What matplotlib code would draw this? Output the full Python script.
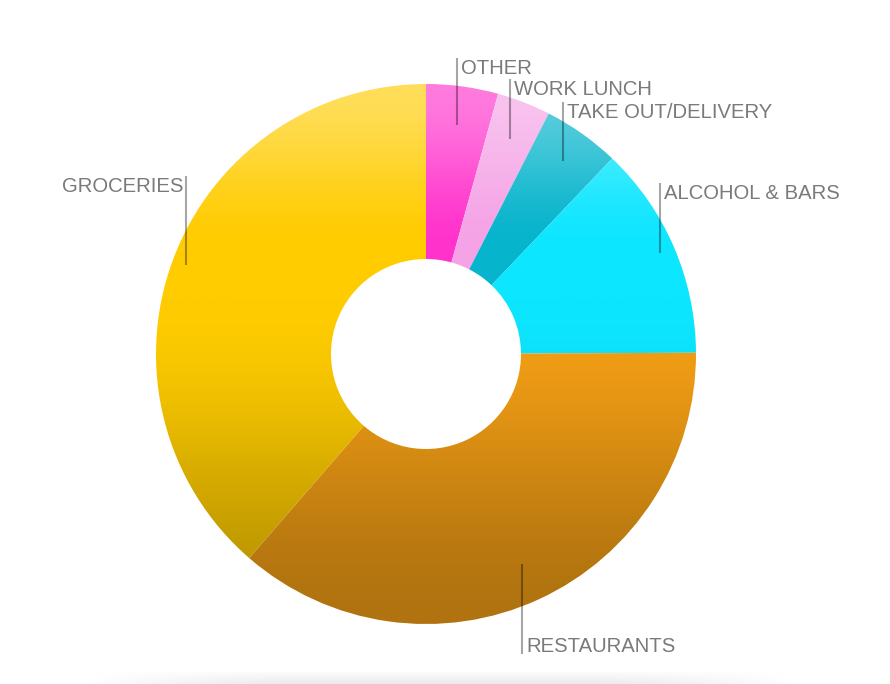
import numpy as np
import matplotlib.pyplot as plt
from matplotlib.patches import Wedge
from matplotlib.colors import to_rgb

# spending share by category (percent), clockwise from 12 o'clock
categories = ["OTHER", "WORK LUNCH", "TAKE OUT/DELIVERY", "ALCOHOL & BARS",
              "RESTAURANTS", "GROCERIES"]
shares = [4.3, 3.2, 4.6, 12.8, 36.4, 38.6]
base_colors = ["#ff33cc", "#f5a3e6", "#06b4cc", "#0de6ff", "#f5a015", "#ffcc00"]

# label layout: radius of leader start, leader length, direction
label_radius = [231, 231, 237, 255, 231, 256]
leader_len = [67, 60, 59, 70, 90, 89]
leader_dir = ["up", "up", "up", "up", "down", "up"]

W, H = 890, 684
cx, cy = 426, H - 354
R_OUT, R_IN = 270, 95

fig = plt.figure(figsize=(W / 100, H / 100), dpi=100)
ax = fig.add_axes([0, 0, 1, 1])
ax.set_xlim(0, W)
ax.set_ylim(0, H)
ax.set_aspect("equal")
ax.axis("off")

# vertical shading: light at the top, darker at the bottom
ys = np.linspace(H, 0, 400)          # image rows from top to bottom
ypix = H - ys                        # pixel row measured from top
lt = np.clip((250 - ypix) / (250 - 84), 0, 1)
lighten = lt * lt * (3 - 2 * lt) * 0.35
dt = np.clip((ypix - 300) / (624 - 300), 0, 1)
darken = 1 - dt * dt * (3 - 2 * dt) * 0.28

label_font = dict(fontsize=14.6, color="#7a7a7a", family="Liberation Sans")

total = sum(shares)
start = 0.0
for cat, val, col, lr, ll, ld in zip(categories, shares, base_colors,
                                     label_radius, leader_len, leader_dir):
    span = val / total * 360
    t2 = 90 - start
    t1 = 90 - start - span
    wedge = Wedge((cx, cy), R_OUT, t1, t2, width=R_OUT - R_IN,
                  facecolor="none", edgecolor="none")
    ax.add_patch(wedge)

    rgb = np.array(to_rgb(col))
    rows = rgb[None, :] * (1 - lighten[:, None]) + lighten[:, None]
    rows = rows * darken[:, None]
    img = np.repeat(rows[:, None, :], 2, axis=1)
    im = ax.imshow(img, extent=[cx - R_OUT, cx + R_OUT, 0, H],
                   aspect="auto", interpolation="bilinear", zorder=1)
    im.set_clip_path(wedge)

    # leader line and label
    mid = np.deg2rad((t1 + t2) / 2)
    x0 = cx + lr * np.cos(mid)
    y0 = cy + lr * np.sin(mid)
    if ld == "up":
        y1 = y0 + ll
    else:
        y1 = y0 - ll
    ax.plot([x0, x0], [y0, y1], color="black", alpha=0.35, lw=1.5,
            solid_capstyle="butt", zorder=3)
    if ld == "down":
        ax.text(x0 + 4, y1 + 2, cat, ha="left", va="baseline", **label_font)
    elif x0 < cx:
        ax.text(x0 - 3, y1 - 1, cat, ha="right", va="top", **label_font)
    else:
        ax.text(x0 + 4, y1 - 1, cat, ha="left", va="top", **label_font)
    start += span

# soft shadow strip at the bottom
sx = np.linspace(-1, 1, 300)
sy = np.linspace(0, 1, 20)
fade = np.clip(1.25 - np.abs(sx) ** 2 * 1.3, 0, 1)[None, :] * sy[:, None]
shadow = np.zeros((20, 300, 4))
shadow[..., :3] = 0.55
shadow[..., 3] = fade * 0.18
ax.imshow(shadow, extent=[80, 800, 0, 14], aspect="auto",
          interpolation="bilinear", zorder=0)

fig.savefig("out.png", dpi=100, facecolor="white")
